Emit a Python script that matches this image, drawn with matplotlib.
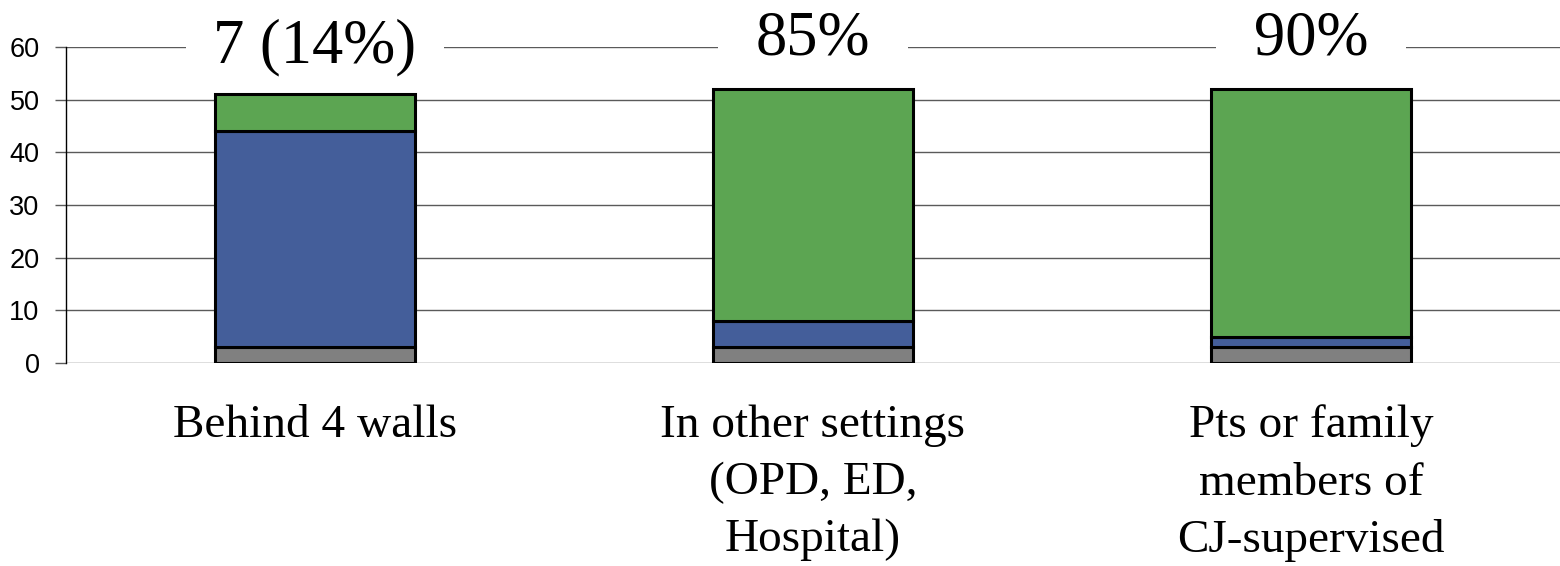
import matplotlib
matplotlib.use("Agg")
import matplotlib.pyplot as plt
from matplotlib.patches import Rectangle
import numpy as np

categories = ["Behind 4 walls",
              "In other settings\n(OPD, ED,\nHospital)",
              "Pts or family\nmembers of\nCJ-supervised"]
gray_vals = [3, 3, 3]
blue_vals = [41, 5, 2]
green_vals = [7, 44, 47]
top_labels = ["7 (14%)", "85%", "90%"]
yticks = [0, 10, 20, 30, 40, 50, 60]

W, H = 1560, 566
fig = plt.figure(figsize=(W / 100, H / 100), dpi=100)
ax = fig.add_axes([66 / W, 1 - 363 / H, 1 - 66 / W, (363 - 47) / H])

x = np.arange(len(categories))
bw = 0.4
edge = dict(edgecolor="black", linewidth=2.2, zorder=3)
ax.bar(x, gray_vals, bw, color="#808080", **edge)
ax.bar(x, blue_vals, bw, bottom=gray_vals, color="#445E9A", **edge)
bottom2 = np.array(gray_vals) + np.array(blue_vals)
ax.bar(x, green_vals, bw, bottom=bottom2, color="#5CA552", **edge)

ax.set_xlim(-0.5, len(categories) - 0.5)
ax.set_ylim(0, 60)
ax.set_yticks(yticks)
ax.yaxis.grid(True, color="#5a5a5a", linewidth=1.0, zorder=0)
ax.set_axisbelow(True)
for s in ["top", "right", "bottom"]:
    ax.spines[s].set_visible(False)
ax.spines["left"].set_color("black")
ax.spines["left"].set_linewidth(1.0)
ax.tick_params(axis="y", length=8, width=1.0, color="#5a5a5a", pad=11,
               labelsize=19.5)
for lab in ax.get_yticklabels():
    lab.set_fontfamily("Liberation Sans")
ax.set_xticks(x)
ax.set_xticklabels(categories, fontfamily="Liberation Serif", fontsize=34,
                   linespacing=1.45, va="top")
ax.tick_params(axis="x", length=0, pad=30)

# headline labels sit on the top gridline, which is broken around them
for xi, lab in zip(x, top_labels):
    wide = len(lab) > 4
    half = 0.26 if wide else 0.19
    base = 57.0 if wide else 58.5
    ax.add_patch(Rectangle((xi - half, 58.5), 2 * half, 3, facecolor="white",
                           edgecolor="none", zorder=1.5, clip_on=False))
    ax.text(xi, base, lab, ha="center", va="baseline",
            fontfamily="Liberation Serif", fontsize=45, zorder=4, clip_on=False)

fig.savefig("out.png", dpi=100, facecolor="white")
